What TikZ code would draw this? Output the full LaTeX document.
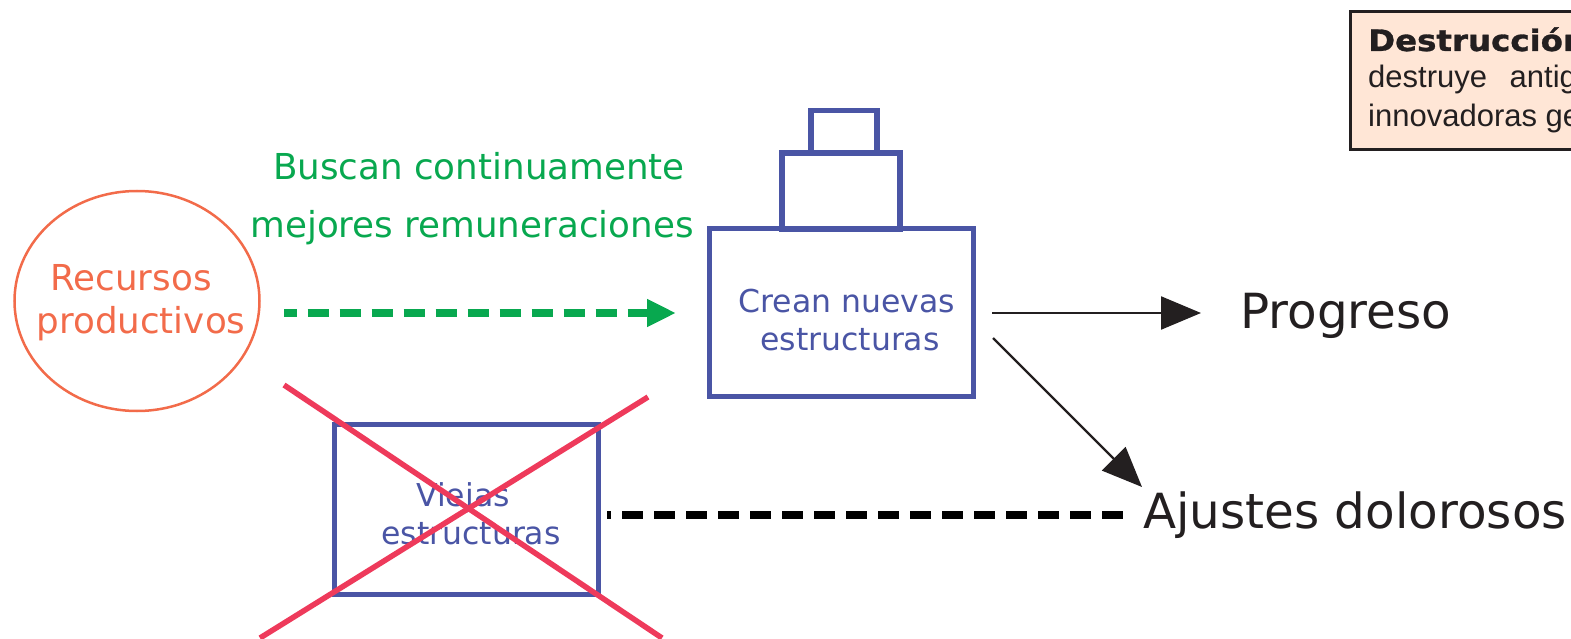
\documentclass[tikz,border=0pt]{standalone}
\usepackage{fontspec}
\setmainfont{DejaVu Sans}
\newfontfamily\cajafont{Liberation Sans}
\newfontfamily\titulofont[BoldFeatures={FakeStretch=1.1,FakeBold=1}]{DejaVu Sans}
\usetikzlibrary{arrows.meta,shapes.geometric}
\definecolor{azul}{HTML}{4A55A5}
\definecolor{naranja}{HTML}{F26B4A}
\definecolor{verde}{HTML}{08A84F}
\definecolor{rojo}{HTML}{EE3A5B}
\definecolor{tinta}{HTML}{231F20}
\definecolor{crema}{HTML}{FFE6D6}

\begin{document}
\begin{tikzpicture}[x=1pt,y=-1pt]
  \tikzset{caja/.style={draw=azul,line width=5.5pt,inner sep=0pt},
           cajatxt/.style={text=azul,align=center,inner sep=0pt,font=\fontsize{31.5}{38}\selectfont},
           cruz/.style={draw=rojo,line width=5.5pt},
           flecha/.style={draw=tinta,line width=2.3pt,-{Triangle[length=40pt,width=33pt,fill=tinta]}}}
  \clip (0,0) rectangle (1571,639);
  \node [draw=tinta,line width=3pt,fill=crema,minimum width=400pt,minimum height=138pt,anchor=north west] (destruccion) at (1349,10) {};
  \node [anchor=base west,inner sep=0pt,font=\titulofont\fontsize{29.5}{30}\selectfont\bfseries,text=tinta] (titulo) at (1368,51) {Destrucción};
  \node [anchor=base west,inner sep=0pt,font=\cajafont\fontsize{31}{31}\selectfont,text=tinta] (linea1) at (1368,88) {destruye\hspace{14pt} antig};
  \node [anchor=base west,inner sep=0pt,font=\cajafont\fontsize{31}{31}\selectfont,text=tinta] (linea2) at (1368,127) {innovadoras ge};

  \node [ellipse,draw=naranja,line width=2.5pt,minimum width=245pt,minimum height=220pt,inner sep=0pt] (recursos) at (137,301) {};
  \node [text=naranja,align=center,inner sep=0pt,font=\fontsize{35.7}{43}\selectfont] (recursostxt) at (141,303) {Recursos\hspace*{20pt}\\productivos};

  \node [text=verde,inner sep=0pt,anchor=base,font=\fontsize{35.7}{36}\selectfont] (buscan) at (479,180) {Buscan continuamente};
  \node [text=verde,inner sep=0pt,anchor=base,font=\fontsize{35.7}{36}\selectfont] (mejores) at (472,237) {mejores remuneraciones};

  \node [caja,minimum width=264pt,minimum height=168pt] (crean) at (841.5,312.5) {};
  \node [caja,minimum width=118pt,minimum height=76pt] (medio) at (841,191) {};
  \node [caja,minimum width=66pt,minimum height=43pt] (alto) at (844,132) {};
  \node [cajatxt] (creantxt) at (847,320) {Crean nuevas\\\hspace*{6pt}estructuras};

  \node [caja,minimum width=264pt,minimum height=170pt] (viejas) at (466.5,509.5) {};
  \node [cajatxt] (viejastxt) at (471,514) {Viejas\hspace*{16pt}\\estructuras};

  \node [inner sep=0pt,anchor=base west,text=tinta,font=\fontsize{48.4}{48}\selectfont] (progreso) at (1240,328) {Progreso};
  \node [inner sep=0pt,anchor=base west,text=tinta,font=\fontsize{48.4}{48}\selectfont] (ajustes) at (1143,528) {Ajustes dolorosos};

  \coordinate (verdeini) at (284,313);
  \coordinate (verdefin) at (676,313);
  \coordinate (negroini) at (607,515);
  \coordinate (negrofin) at (1123,515);
  \coordinate (salida1) at (992,313);
  \coordinate (llegada1) at (1201,313);
  \coordinate (salida2) at (993,338);
  \coordinate (llegada2) at (1142,487);

  \draw [verde,line width=8pt,dash pattern=on 21.5pt off 10.5pt,dash phase=8.5pt,-{Triangle[length=29pt,width=26pt,fill=verde]}] (verdeini) -- (verdefin);
  \draw [black,line width=8pt,dash pattern=on 21pt off 11pt,dash phase=17pt] (negroini) -- (negrofin);
  \draw [flecha] (salida1) -- (llegada1);
  \draw [flecha] (salida2) -- (llegada2);

  \coordinate (cruz1) at (284,385);
  \coordinate (cruz2) at (662,638);
  \coordinate (cruz3) at (648,397);
  \coordinate (cruz4) at (260,638);
  \draw [cruz] (cruz1) -- (cruz2);
  \draw [cruz] (cruz3) -- (cruz4);
\end{tikzpicture}
\end{document}
